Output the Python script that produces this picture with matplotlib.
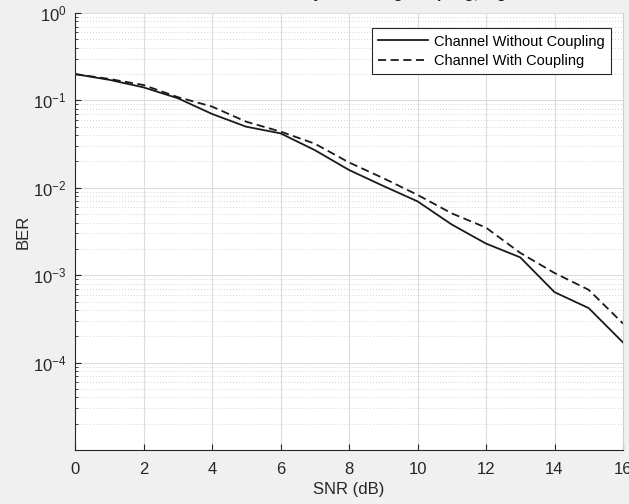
import numpy as np
import matplotlib
matplotlib.use("Agg")
import matplotlib.pyplot as plt
from matplotlib.ticker import LogLocator, NullFormatter

plt.rcParams['font.family'] = ['Liberation Sans', 'DejaVu Sans']
plt.rcParams['mathtext.fontset'] = 'custom'
plt.rcParams['mathtext.rm'] = 'Liberation Sans'
plt.rcParams['mathtext.it'] = 'Liberation Sans'

snr = [0, 1, 2, 3, 4, 5, 6, 7, 8, 9, 10, 11, 12, 13, 14, 15, 16]
ber_without = [0.2, 0.172, 0.141, 0.106, 0.070, 0.050, 0.042, 0.027, 0.016, 0.0105,
               0.0070, 0.0038, 0.0023, 0.0016, 0.00064, 0.00042, 0.00017]
ber_with = [0.2, 0.176, 0.150, 0.109, 0.085, 0.057, 0.044, 0.032, 0.0195, 0.0129,
            0.0083, 0.0051, 0.0035, 0.0018, 0.00106, 0.00068, 0.00028]
labels = ["Channel Without Coupling", "Channel With Coupling"]
ytick_vals = [1e-4, 1e-3, 1e-2, 1e-1, 1]
ytick_text = [r'$10^{-4}$', r'$10^{-3}$', r'$10^{-2}$', r'$10^{-1}$', r'$10^{0}$']

fig = plt.figure(figsize=(6.29, 5.04), dpi=100, facecolor='#f0f0f0')
ax = fig.add_axes([75 / 629, 54 / 504, 548 / 629, 437 / 504])
ax.set_facecolor('white')

ax.semilogy(snr, ber_without, '-', color='#1a1a1a', lw=1.3, label=labels[0])
ax.semilogy(snr, ber_with, '--', color='#1a1a1a', lw=1.3, dashes=(4.5, 2.5), label=labels[1])

ax.set_xlim(0, 16)
ax.set_ylim(1e-5, 1)
ax.set_xticks(range(0, 17, 2))
ax.set_yticks(ytick_vals)
ax.set_yticklabels(ytick_text)
ax.yaxis.set_minor_locator(LogLocator(base=10, subs=np.arange(2, 10), numticks=20))
ax.yaxis.set_minor_formatter(NullFormatter())

ax.grid(True, which='major', color='#dcdcdc', lw=0.8, ls='-')
ax.grid(True, which='minor', axis='y', color='#d4d4d4', lw=0.7, ls=(0, (1, 2)))
ax.set_axisbelow(True)

ax.tick_params(which='both', direction='in', colors='#262626', labelsize=12,
               top=False, right=False)
ax.tick_params(which='major', length=4)
ax.tick_params(which='minor', length=2)
ax.tick_params(axis='x', pad=9)
ax.tick_params(axis='y', pad=6)
for s in ax.spines.values():
    s.set_color('#262626')
    s.set_linewidth(0.8)
ax.spines['top'].set_visible(False)
ax.spines['right'].set_color('#d0d0d0')

ax.set_xlabel("SNR (dB)", fontsize=12, color='#262626', labelpad=3)
ax.set_ylabel("BER", fontsize=12, color='#262626', labelpad=2)

leg = ax.legend(loc='upper right', fontsize=10.5, frameon=True, fancybox=False,
                edgecolor='#262626', framealpha=1, handlelength=3.4,
                bbox_to_anchor=(611 / 629, 476 / 504), bbox_transform=fig.transFigure,
                borderaxespad=0, borderpad=0.45, labelspacing=0.35, handletextpad=0.4)
leg.get_frame().set_linewidth(0.8)

# title sits mostly above the saved area, as in the original screenshot
fig.text(0.555, 1 + 2 / 504, "BER Performance of MIMO System using Coupling, Eight Antennas",
         ha='center', va='baseline', fontsize=11, fontweight='bold', color='#1a1a1a')

fig.savefig("out.png", dpi=100, facecolor=fig.get_facecolor())
